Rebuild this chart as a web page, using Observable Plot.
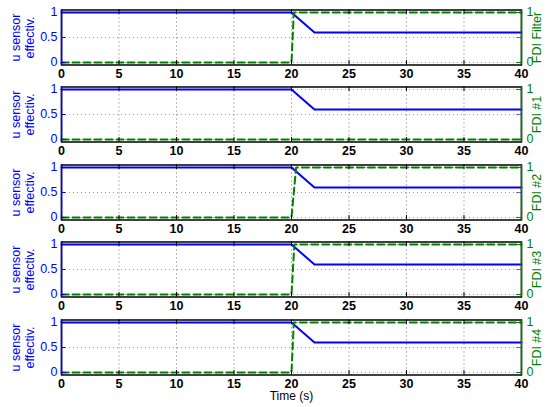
<!DOCTYPE html>
<html><head><meta charset="utf-8">
<script src="https://cdn.jsdelivr.net/npm/d3@7"></script>
<script src="https://cdn.jsdelivr.net/npm/@observablehq/plot@0.6"></script>
<style>
html,body{margin:0;padding:0;background:#fff;overflow:hidden;}
#chart svg{display:block;overflow:visible;}
</style></head><body><div id="chart"></div>
<script>
// ---- data ----
const xTicks = [0, 5, 10, 15, 20, 25, 30, 35, 40];
const uTicks = [0, 0.5, 1];
const fdiTicks = [0, 1];
const uTime = [0, 20, 22, 40];
const uEffect = [1, 1, 0.6, 0.6];
const panelNames = ["FDI Filter", "FDI #1", "FDI #2", "FDI #3", "FDI #4"];
const fdiFilterTime = [0, 20, 20.2, 40];
const fdiFilterValue = [0, 0, 1, 1];
const fdi1Time = [0, 40];
const fdi1Value = [0, 0];
const fdi2Time = [0, 20, 20.4, 40];
const fdi2Value = [0, 0, 1, 1];
const fdi3Time = [0, 20, 20.25, 40];
const fdi3Value = [0, 0, 1, 1];
const fdi4Time = [0, 20, 20.2, 40];
const fdi4Value = [0, 0, 1, 1];
const leftLabel = "u sensor\neffectiv.";
const xLabel = "Time (s)";

const fdiTimes = [fdiFilterTime, fdi1Time, fdi2Time, fdi3Time, fdi4Time];
const fdiValues = [fdiFilterValue, fdi1Value, fdi2Value, fdi3Value, fdi4Value];

const BLUE = "#0000ff", GREEN = "#008000";
const yDomain = [-0.05, 1.05];
const xDomain = [0, 40];
const FONT = "'Liberation Sans', Arial, Helvetica, sans-serif";
const PH = 77.4;

function panel(i) {
  const last = i === 4;
  const H = last ? 407 - 4 * PH : PH;
  const u = uTime.map((t, k) => ({t, v: uEffect[k]}));
  const f = fdiTimes[i].map((t, k) => ({t, v: fdiValues[i][k]}));
  const tyLen = 0.09, txLen = 0.4;
  const marks = [
    Plot.ruleX(xTicks, {stroke: "#000", strokeOpacity: 0.55, strokeDasharray: "1,3", strokeWidth: 1}),
    Plot.ruleY(uTicks, {stroke: BLUE, strokeOpacity: 0.45, strokeDasharray: "1,3", strokeWidth: 1}),
    Plot.line(u, {x: "t", y: "v", stroke: BLUE, strokeWidth: 2}),
    Plot.line(f, {x: "t", y: "v", stroke: GREEN, strokeWidth: 2, strokeDasharray: "7,4"}),
    // inward ticks
    Plot.ruleX(xTicks, {y1: yDomain[0], y2: yDomain[0] + tyLen, stroke: "#000", strokeWidth: 1}),
    Plot.ruleX(xTicks, {y1: yDomain[1], y2: yDomain[1] - tyLen, stroke: "#000", strokeWidth: 1}),
    Plot.ruleY(uTicks, {x1: xDomain[0], x2: xDomain[0] + txLen, stroke: BLUE, strokeWidth: 1}),
    Plot.ruleY(uTicks, {x1: xDomain[1], x2: xDomain[1] - txLen, stroke: BLUE, strokeWidth: 1, strokeOpacity: 0.6}),
    Plot.ruleY(fdiTicks, {x1: xDomain[1], x2: xDomain[1] - txLen, stroke: GREEN, strokeWidth: 1}),
    // frame
    Plot.frame({stroke: "#000", strokeWidth: 1.5}),
    Plot.ruleX([xDomain[0]], {stroke: BLUE, strokeWidth: 1.5}),
    Plot.ruleX([xDomain[1]], {stroke: GREEN, strokeWidth: 1.5}),
    // axes
    Plot.axisX({ticks: xTicks, tickSize: 0, tickPadding: 4, fontSize: 12.5, fontWeight: "bold", fill: "#000", label: null, tickFormat: d => String(d)}),
    Plot.axisY({anchor: "left", ticks: uTicks, tickSize: 0, tickPadding: 4, fontSize: 12.5, fill: BLUE, label: null, tickFormat: d => String(d)}),
    Plot.axisY({anchor: "right", ticks: fdiTicks, tickSize: 0, tickPadding: 5, fontSize: 12.5, fill: GREEN, label: null, tickFormat: d => String(d)}),
    Plot.text([leftLabel], {text: d => d, frameAnchor: "left", dx: -39, rotate: -90, textAnchor: "middle", lineHeight: 1.15, fontSize: 12.5, fill: BLUE}),
    Plot.text([panelNames[i]], {text: d => d, frameAnchor: "right", dx: 16, rotate: -90, textAnchor: "middle", fontSize: 12.5, fill: GREEN})
  ];
  if (last) {
    marks.push(Plot.text([xLabel], {text: d => d, frameAnchor: "bottom", dy: 25.5, fontSize: 12, fill: "#000"}));
  }
  return Plot.plot({
    width: 545, height: H,
    marginLeft: 61, marginRight: 24, marginTop: 9.5, marginBottom: H - 64.5,
    x: {domain: xDomain, axis: null},
    y: {domain: yDomain, axis: null},
    style: {fontFamily: FONT, background: "transparent", overflow: "visible"},
    marks
  });
}

const chart = document.getElementById("chart");
for (let i = 0; i < 5; i++) chart.appendChild(panel(i));
</script></body></html>
